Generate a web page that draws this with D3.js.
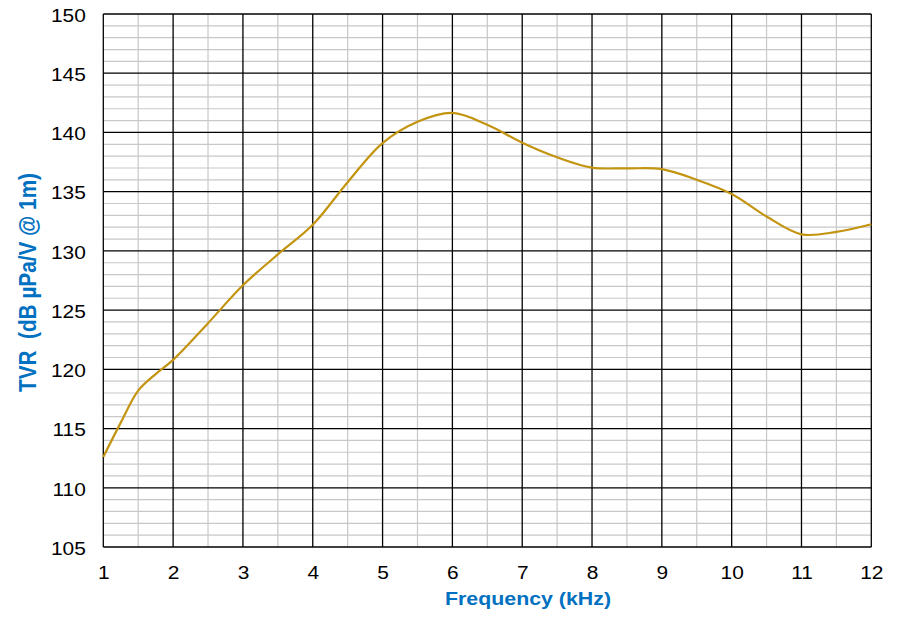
<!DOCTYPE html>
<html>
<head>
<meta charset="utf-8">
<script src="https://cdn.jsdelivr.net/npm/d3@7"></script>
<style>
  body { margin: 0; background: #fff; }
  text { font-family: Arial, "Liberation Sans", sans-serif; }
</style>
</head>
<body>
<svg id="chart" width="915" height="623"></svg>
<script>
// frequency (kHz) and TVR (dB uPa/V @ 1m)
const freq = [1, 1.25, 1.5, 1.75, 2, 2.5, 3, 3.5, 4, 4.5, 5, 5.5, 6, 6.5, 7, 7.5, 8, 8.5, 9, 9.5, 10, 10.5, 11, 11.5, 12]
const tvr = [112.6, 115.5, 118.2, 119.6, 120.8, 123.9, 127.1, 129.7, 132.2, 135.8, 139.1, 140.9, 141.65, 140.65, 139.13, 137.9, 137.03, 136.97, 136.9, 136.0, 134.8, 132.9, 131.4, 131.6, 132.25]
const xTicks = d3.range(1, 13)
const yTicks = d3.range(105, 151, 5)

let svg = d3.select('#chart')
let pLeft = 103.3, pRight = 871.3, pTop = 14, pBottom = 547

let x = d3.scaleLinear().domain([1, 12]).range([pLeft, pRight]),
    y = d3.scaleLinear().domain([105, 150]).range([pBottom, pTop])

// minor grid
let g = svg.append('g')
g.selectAll('line.vminor')
    .data(d3.range(1.5, 12, 1))
    .join('line')
    .attr('x1', d => x(d)).attr('x2', d => x(d))
    .attr('y1', pTop).attr('y2', pBottom)
    .style('stroke', '#c8c8c8').style('stroke-width', 1.2)
g.selectAll('line.hminor')
    .data(d3.range(106, 150).filter(v => v % 5 != 0))
    .join('line')
    .attr('x1', pLeft).attr('x2', pRight)
    .attr('y1', d => y(d)).attr('y2', d => y(d))
    .style('stroke', '#c8c8c8').style('stroke-width', 1.2)

// major grid
g.selectAll('line.vmajor')
    .data(xTicks)
    .join('line')
    .attr('x1', d => x(d)).attr('x2', d => x(d))
    .attr('y1', pTop).attr('y2', pBottom)
    .style('stroke', '#000').style('stroke-width', 1.3)
g.selectAll('line.hmajor')
    .data(yTicks)
    .join('line')
    .attr('x1', pLeft).attr('x2', pRight)
    .attr('y1', d => y(d)).attr('y2', d => y(d))
    .style('stroke', '#000').style('stroke-width', 1.3)

// axes (labels only)
let ax = svg.append('g')
    .attr('transform', `translate(0,${pBottom})`)
    .call(d3.axisBottom(x).tickValues(xTicks).tickSize(0).tickPadding(19))
ax.select('.domain').remove()
ax.selectAll('text')
    .style('font-size', '19px').style('fill', '#000')
    .attr('transform', 'scale(1.1,1)')

let ay = svg.append('g')
    .attr('transform', `translate(${pLeft},0)`)
    .call(d3.axisLeft(y).tickValues(yTicks).tickSize(0))
ay.select('.domain').remove()
ay.selectAll('text')
    .style('font-size', '19px').style('fill', '#000')
    .attr('x', 0).attr('dy', '0.38em')
    .attr('transform', 'translate(-17.5,0) scale(1.1,1)')

// curve
let line = d3.line()
    .x((d, i) => x(freq[i]))
    .y(d => y(d))
    .curve(d3.curveCatmullRom.alpha(0.5))

svg.append('path')
    .datum(tvr)
    .attr('d', line)
    .style('fill', 'none')
    .style('stroke', '#c39410')
    .style('stroke-width', 2.2)

// axis titles
svg.append('text')
    .attr('x', 528).attr('y', 604.5)
    .attr('text-anchor', 'middle')
    .attr('textLength', 166).attr('lengthAdjust', 'spacingAndGlyphs')
    .style('font-size', '17.5px').style('font-weight', 'bold').style('fill', '#0070c0')
    .text('Frequency (kHz)')

svg.append('text')
    .attr('transform', 'translate(36,282.5) rotate(-90)')
    .attr('text-anchor', 'middle')
    .attr('textLength', 219).attr('lengthAdjust', 'spacingAndGlyphs')
    .style('font-size', '23px').style('font-weight', 'bold').style('fill', '#0070c0')
    .style('white-space', 'pre')
    .text('TVR  (dB µPa/V @ 1m)')
</script>
</body>
</html>
